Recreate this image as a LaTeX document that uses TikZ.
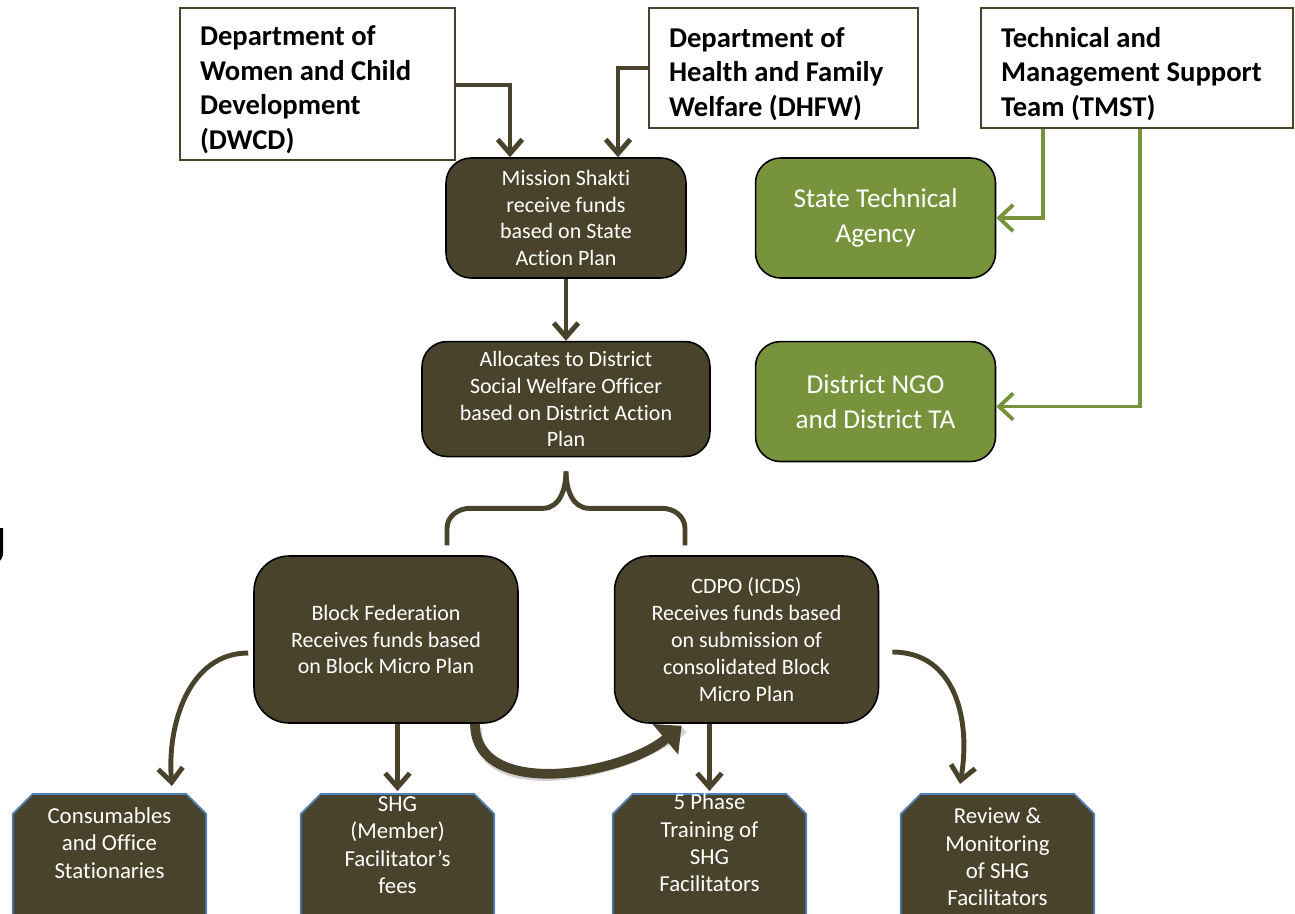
\documentclass[tikz,border=0pt]{standalone}
\usepackage{fontspec}
\setmainfont{Carlito}[Ligatures=NoCommon]
\usetikzlibrary{positioning, arrows.meta, calc}

\definecolor{olivebrown}{RGB}{74,67,44}
\definecolor{leafgreen}{RGB}{119,147,60}
\definecolor{octblue}{RGB}{79,129,189}

\tikzset{
  deptbox/.style={rectangle, draw=olivebrown, line width=1.2pt, fill=white, align=flush left, inner xsep=0.4cm,
    font=\fontsize{16.3}{19.6}\selectfont\bfseries, execute at begin node={\rule{0pt}{18pt}}},
  fundbox/.style={rectangle, rounded corners=0.5cm, draw=black, line width=0.9pt, fill=olivebrown, text=white,
    align=flush center, font=\fontsize{12.5}{15.3}\selectfont, minimum width=4.8cm, minimum height=2.4cm},
  techbox/.style={fundbox, fill=leafgreen, font=\fontsize{15.5}{19.8}\selectfont},
  octbox/.style={rectangle, minimum width=3.86cm, minimum height=4cm, anchor=north, inner sep=0pt},
  octline/.style={draw=octblue, line width=1pt, fill=olivebrown},
  octtext/.style={text=white, align=flush center, font=\fontsize{13}{15.6}\selectfont},
  flow/.style={draw=olivebrown, line width=2.8pt, -{Straight Barb[length=8pt, width=14pt]}},
  techlink/.style={draw=leafgreen, line width=2.2pt, -{Straight Barb[length=8pt, width=15pt]}},
  brace/.style={draw=olivebrown, line width=2.8pt},
  bigcurve/.style={draw=olivebrown, line width=5.5pt, -{Triangle[length=12pt, width=22pt]}}
}

\begin{document}
\begin{tikzpicture}[x=0.02cm, y=-0.02cm]
  \useasboundingbox (0,0) rectangle (1295,913);
  \clip (0,0) rectangle (1295,913);

  % departments on top
  \node[deptbox, text width=4.7cm, minimum height=3.04cm] (dwcd) at (317.5,84)
    {Department of\\Women and Child\\Development\\(DWCD)};
  \node[deptbox, text width=4.58cm, minimum height=2.4cm] (dhfw) at (783.5,68)
    {Department of\\Health and Family\\Welfare (DHFW)};
  \node[deptbox, text width=5.44cm, minimum height=2.4cm] (tmst) at (1137,68)
    {Technical and\\Management Support\\Team (TMST)};

  % state and district level
  \node[fundbox] (mission) at (566,218) {Mission Shakti\\receive funds\\based on State\\Action Plan};
  \node[techbox, right=1.36cm of mission] (sta) {State Technical\\Agency};
  \node[fundbox, minimum width=5.76cm, minimum height=2.3cm, below=1.24cm of mission] (alloc)
    {Allocates to District\\Social Welfare Officer\\based on District Action\\Plan};
  \node[techbox, below=1.24cm of sta] (ngo) {District NGO\\and District TA};

  % block level
  \node[fundbox, rounded corners=0.7cm, minimum width=5.28cm, minimum height=3.34cm] (block) at (386,639.5)
    {Block Federation\\Receives funds based\\on Block Micro Plan};
  \node[fundbox, rounded corners=0.7cm, minimum width=5.28cm, minimum height=3.34cm, right=1.9cm of block] (cdpo)
    {CDPO (ICDS)\\Receives funds based\\on submission of\\consolidated Block\\Micro Plan};

  % expenses
  \node[octbox] (cons) at (109.5,794) {};
  \node[octbox] (shg) at (397.5,794) {};
  \node[octbox] (phase) at (709.5,794) {};
  \node[octbox] (rev) at (997.5,794) {};
  \foreach \o in {cons,shg,phase,rev}
    \path[octline] ([xshift=0.4cm]\o.north west) -- ([xshift=-0.4cm]\o.north east) -- ([yshift=-0.4cm]\o.north east)
      -- (\o.south east) -- (\o.south west) -- ([yshift=-0.4cm]\o.north west) -- cycle;
  \node[octtext] (constext) at (109.5,843) {Consumables\\and Office\\Stationaries};
  \node[octtext] (shgtext) at (397.5,845) {SHG\\(Member)\\Facilitator’s\\fees};
  \node[octtext] (phasetext) at (709.5,843) {5 Phase\\Training of\\SHG\\Facilitators};
  \node[octtext] (revtext) at (997.5,857) {Review \&\\Monitoring\\of SHG\\Facilitators};

  % fund flow
  \draw[flow] ([yshift=-0.02cm]dwcd.east) -| ([xshift=-1.12cm]mission.north);
  \draw[flow] (dhfw.west) -| ([xshift=1.04cm]mission.north);
  \draw[flow] (mission) -- (alloc);
  \draw[techlink] ([xshift=-1.88cm]tmst.south) |- (sta.east);
  \draw[techlink] ([xshift=0.06cm]tmst.south) |- ([yshift=-0.1cm]ngo.east);

  % brace
  \coordinate (bracetip) at ([yshift=-0.28cm]alloc.south);
  \draw[brace] (bracetip) to[out=-90, in=0] ++(-23,37) -- ++(-73,0) to[out=180, in=90] ++(-23,20) -- ++(0,17);
  \draw[brace] (bracetip) to[out=-90, in=180] ++(23,37) -- ++(73,0) to[out=0, in=90] ++(23,20) -- ++(0,17);

  % to the expenses
  \draw[flow] ([xshift=-0.1cm, yshift=-0.27cm]block.west) to[out=180, in=95] ([xshift=1.25cm, yshift=0.16cm]cons.north);
  \draw[flow] (block.south -| shg.north) -- ([yshift=0.06cm]shg.north);
  \draw[flow] (cdpo.south -| phase.north) -- ([yshift=0.06cm]phase.north);
  \draw[flow] ([xshift=0.26cm, yshift=-0.25cm]cdpo.east) to[out=0, in=80, looseness=1.1] ([xshift=-0.75cm, yshift=0.2cm]rev.north);
  \draw[bigcurve, draw=gray!35, -] ([xshift=1.82cm, yshift=-0.08cm]block.south) to[out=-90, in=-140, looseness=0.95] ([xshift=-1.26cm, yshift=-0.1cm]cdpo.south);
  \draw[bigcurve] ([xshift=1.78cm]block.south) to[out=-90, in=-140, looseness=0.95] ([xshift=-1.3cm, yshift=-0.04cm]cdpo.south);

  % cut-off letter at the left edge
  \draw[line width=1.8pt] (1.5,528) -- (1.5,552) to[out=-90, in=30] (-4,562);
\end{tikzpicture}
\end{document}
